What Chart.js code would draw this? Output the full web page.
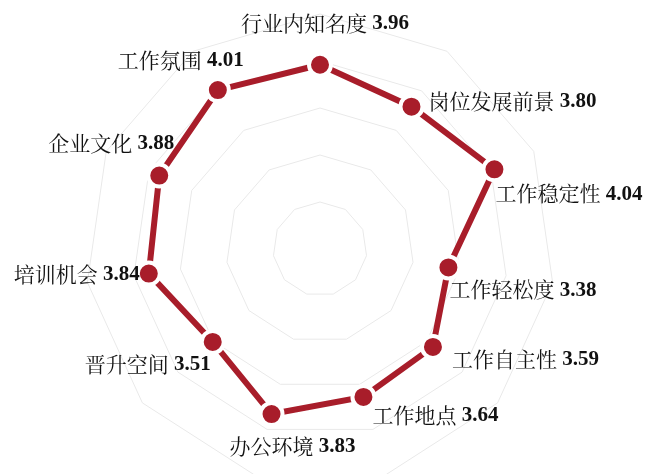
<!DOCTYPE html>
<html>
<head>
<meta charset="utf-8">
<script src="https://cdn.jsdelivr.net/npm/chart.js@4/dist/chart.umd.min.js"></script>
<style>
  html, body { margin: 0; padding: 0; background: #fff; overflow: hidden; }
  #wrap { width: 645px; height: 484px; position: relative; }
</style>
</head>
<body>
<div id="wrap"><canvas id="radar"></canvas></div>
<script>
const categories = ["行业内知名度", "岗位发展前景", "工作稳定性", "工作轻松度", "工作自主性",
  "工作地点", "办公环境", "晋升空间", "培训机会", "企业文化", "工作氛围"];
const scores = [3.96, 3.80, 4.04, 3.38, 3.59, 3.64, 3.83, 3.51, 3.84, 3.88, 4.01];
const scaleMin = 2;
const scaleMax = 4.5;
const scaleStep = 0.5;

// where each label sits around its point: [align, dx, dy]
const labelPlacement = [
  ["center", 5, -42],
  ["left", 17, -6],
  ["left", 1, 24],
  ["left", 1, 22],
  ["left", 19, 12],
  ["left", 9, 18],
  ["center", 21, 32],
  ["right", -2, 22],
  ["right", -9, 0],
  ["right", 15, -33],
  ["center", -37, -30],
];

const RED = "#a81d2a";
const nameFont = '21px "Noto Serif CJK SC", "Noto Sans CJK SC", serif';
const valueFont = 'bold 21px "Liberation Serif", "Times New Roman", serif';

const pointLabels = {
  id: "pointLabels",
  afterDatasetsDraw(chart) {
    const ctx = chart.ctx;
    const meta = chart.getDatasetMeta(0);
    ctx.save();
    ctx.textBaseline = "middle";
    ctx.fillStyle = "#111111";
    meta.data.forEach((pt, i) => {
      const name = categories[i];
      const value = " " + scores[i].toFixed(2);
      ctx.font = nameFont;
      const wName = ctx.measureText(name).width;
      ctx.font = valueFont;
      const wValue = ctx.measureText(value).width;
      const total = wName + wValue;
      const [align, dx, dy] = labelPlacement[i];
      let x = pt.x + dx;
      if (align === "center") x -= total / 2;
      else if (align === "right") x -= total;
      const y = pt.y + dy;
      ctx.textAlign = "left";
      ctx.font = nameFont;
      ctx.fillText(name, x, y);
      ctx.font = valueFont;
      ctx.fillText(value, x + wName, y + 1);
    });
    ctx.restore();
  },
};

new Chart(document.getElementById("radar"), {
  type: "radar",
  data: {
    labels: categories,
    datasets: [
      {
        data: scores,
        borderColor: RED,
        borderWidth: 6,
        fill: false,
        tension: 0,
        pointRadius: 11,
        pointHoverRadius: 11,
        pointBackgroundColor: RED,
        pointBorderColor: "#ffffff",
        pointBorderWidth: 4,
      },
    ],
  },
  options: {
    responsive: true,
    maintainAspectRatio: false,
    animation: false,
    layout: { padding: { top: 14, left: 0, right: 5, bottom: 0 } },
    plugins: { legend: { display: false }, tooltip: { enabled: false } },
    scales: {
      r: {
        min: scaleMin,
        max: scaleMax,
        ticks: { stepSize: scaleStep, display: false },
        grid: { color: "#e9e9e9", lineWidth: 1 },
        angleLines: { display: false },
        pointLabels: { display: false },
      },
    },
  },
  plugins: [pointLabels],
});
</script>
</body>
</html>
